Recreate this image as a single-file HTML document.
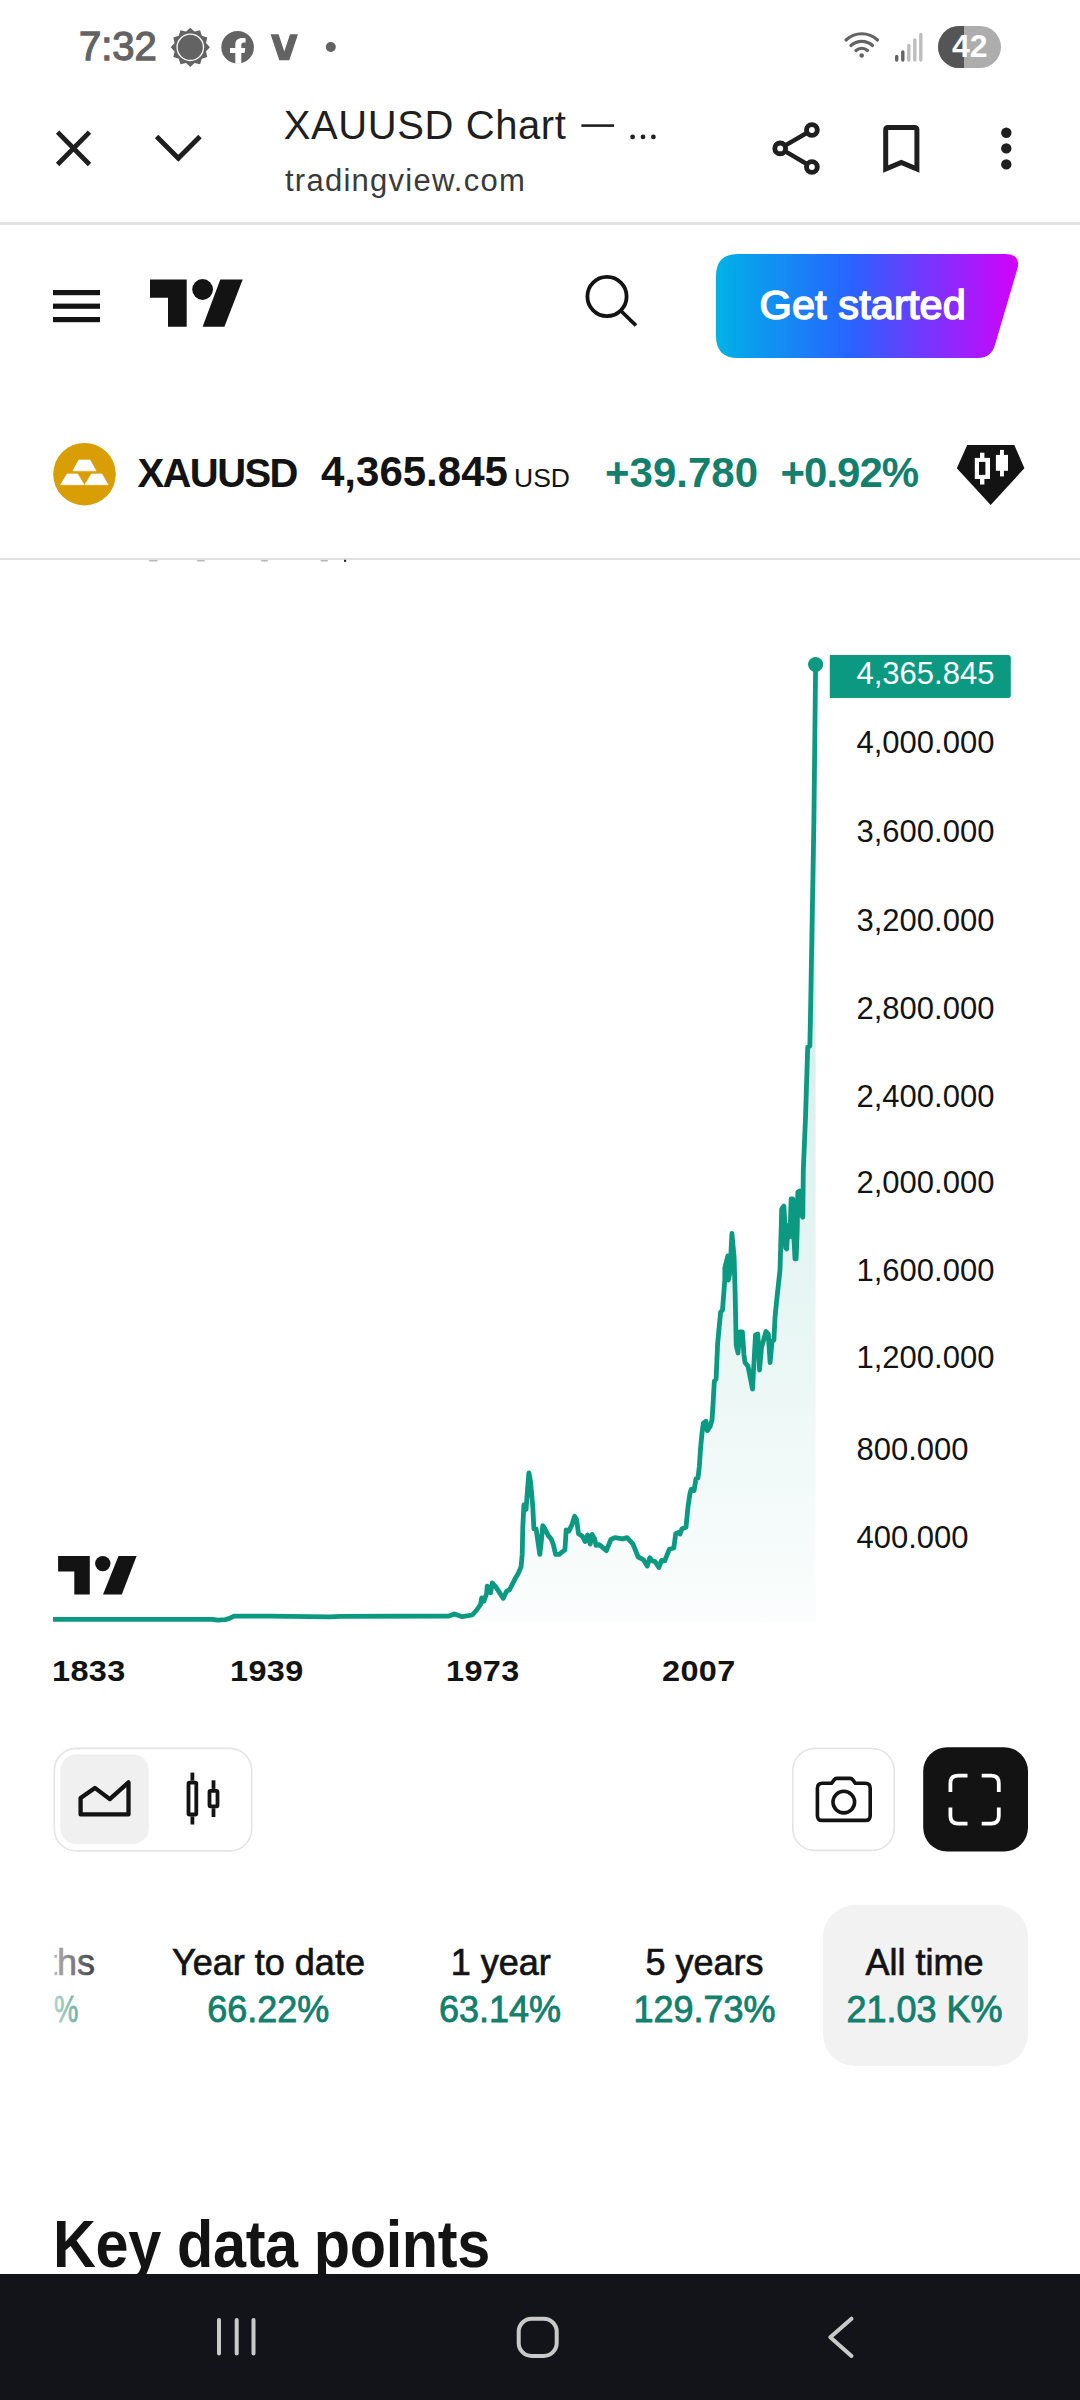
<!DOCTYPE html>
<html><head><meta charset="utf-8">
<style>
*{margin:0;padding:0;box-sizing:border-box}
html,body{width:1080px;height:2400px;overflow:hidden;background:#fff}
body{position:relative;font-family:"Liberation Sans",sans-serif;color:#131313}
.a{position:absolute;white-space:nowrap;line-height:1}
svg{position:absolute;overflow:visible}
.t1{font-size:36px;color:#131313;-webkit-text-stroke:0.7px #131313}
.t2{font-size:36px;color:#13806d;letter-spacing:0px;-webkit-text-stroke:0.85px #13806d}
</style></head><body>

<!-- STATUS BAR -->
<div class="a" style="left:79px;top:26px;font-size:40px;color:#636363;-webkit-text-stroke:1.3px #636363;letter-spacing:0px">7:32</div>
<svg style="left:0;top:0" width="1080" height="95" viewBox="0 0 1080 95">
  <!-- sun/gear -->
  <g fill="#636363">
    <polygon points="190.30,27.70 194.52,31.56 200.10,30.33 201.83,35.77 207.27,37.50 206.04,43.08 209.90,47.30 206.04,51.52 207.27,57.10 201.83,58.83 200.10,64.27 194.52,63.04 190.30,66.90 186.08,63.04 180.50,64.27 178.77,58.83 173.33,57.10 174.56,51.52 170.70,47.30 174.56,43.08 173.33,37.50 178.77,35.77 180.50,30.33 186.08,31.56"/>
    <circle cx="190.3" cy="47.3" r="13.2" fill="#636363" stroke="#fff" stroke-width="1.3"/>
  </g>
  <!-- facebook -->
  <circle cx="237.6" cy="47.3" r="16.3" fill="#636363"/>
  <path d="M241.3,63.8 V53 H244.6 L245.3,48 H241.3 V45 C241.3,43.5 242,42.5 243.8,42.5 H245.6 V38.3 C244.8,38.2 243.5,38 242.2,38 C238.2,38 235.3,40.3 235.3,44.5 V48 H230 V53 H235.3 V63.8 Z" fill="#fff"/>
  <!-- V -->
  <path d="M270.6,34.3 H278.6 L284.3,51.5 L290,34.3 H298 L289.3,60.2 H279.3 Z" fill="#636363"/>
  <circle cx="330.8" cy="47" r="5" fill="#636363"/>
  <!-- wifi -->
  <g fill="none" stroke="#636363" stroke-width="3.2" stroke-linecap="round">
    <path d="M846,40 A23,23 0 0 1 877.5,40"/>
    <path d="M851,45.5 A16,16 0 0 1 872.5,45.5"/>
    <path d="M856,50.5 A8.5,8.5 0 0 1 867.5,50.5"/>
  </g>
  <circle cx="861.7" cy="55.5" r="2.3" fill="#636363"/>
  <!-- signal -->
  <g stroke-linecap="round" stroke-width="3.4">
    <line x1="896.7" y1="56.5" x2="896.7" y2="60" stroke="#636363"/>
    <line x1="902.8" y1="52" x2="902.8" y2="60" stroke="#636363"/>
    <line x1="908.8" y1="45.5" x2="908.8" y2="60" stroke="#bdbdbd"/>
    <line x1="914.8" y1="40" x2="914.8" y2="60" stroke="#bdbdbd"/>
    <line x1="920.8" y1="34.5" x2="920.8" y2="60" stroke="#bdbdbd"/>
  </g>
  <!-- battery -->
  <defs><clipPath id="pill"><rect x="938" y="26" width="63" height="42" rx="21"/></clipPath></defs>
  <g clip-path="url(#pill)">
    <rect x="938" y="26" width="63" height="42" fill="#adadad"/>
    <rect x="938" y="26" width="26" height="42" fill="#555"/>
  </g>
</svg>
<div class="a" style="left:952px;top:30px;font-size:32px;font-weight:700;color:#fff">42</div>

<!-- BROWSER TOOLBAR -->
<svg style="left:0;top:0" width="1080" height="230" viewBox="0 0 1080 230">
  <g stroke="#1f1f1f" stroke-width="4.6" fill="none">
    <path d="M57.6,132.1 L89.5,164.5 M89.5,132.1 L57.6,164.5" stroke-width="4.8"/>
    <path d="M156.6,136.6 L178.3,158.3 L200,136.6" stroke-width="4.9"/>
  </g>
  <!-- share -->
  <g stroke="#1f1f1f" stroke-width="4.4" fill="none">
    <line x1="780.2" y1="148.4" x2="811.9" y2="130"/>
    <line x1="780.2" y1="148.4" x2="811.9" y2="167"/>
    <circle cx="811.9" cy="130" r="5.4" fill="#fff" stroke-width="4.9"/>
    <circle cx="780.2" cy="148.4" r="5.4" fill="#fff" stroke-width="4.9"/>
    <circle cx="811.9" cy="167" r="5.4" fill="#fff" stroke-width="4.9"/>
  </g>
  <!-- bookmark -->
  <path d="M885.7,169 V130 Q885.7,127.5 888.2,127.5 H914.4 Q916.9,127.5 916.9,130 V169 L901.3,162.5 Z" stroke="#1f1f1f" stroke-width="5" fill="none" stroke-linejoin="miter"/>
  <!-- dots -->
  <g fill="#1f1f1f">
    <circle cx="1006.3" cy="132.8" r="5.2"/>
    <circle cx="1006.3" cy="148.4" r="5.2"/>
    <circle cx="1006.3" cy="164.4" r="5.2"/>
  </g>
  <rect x="0" y="222" width="1080" height="3" fill="#e3e3e3"/>
</svg>
<div class="a" style="left:283.8px;top:104.8px;font-size:40px;color:#1f1f1f;letter-spacing:0.58px">XAUUSD Chart</div>
<svg style="left:0;top:0" width="700" height="160" viewBox="0 0 700 160"><g fill="#1f1f1f"><rect x="581.4" y="124.3" width="32.6" height="2.6"/><circle cx="632.6" cy="136.9" r="2.35"/><circle cx="643" cy="136.9" r="2.35"/><circle cx="653.4" cy="136.9" r="2.35"/></g></svg>
<div class="a" style="left:285px;top:164.8px;font-size:31px;letter-spacing:1.25px;color:#3a3a3a">tradingview.com</div>

<!-- TV HEADER -->
<svg style="left:0;top:0" width="1080" height="560" viewBox="0 0 1080 560">
  <g fill="#131313">
    <rect x="53" y="290" width="47" height="5.2"/>
    <rect x="53" y="303.6" width="47" height="5.2"/>
    <rect x="53" y="317" width="47" height="5.2"/>
    <!-- logo -->
    <path d="M150,279.4 H186.7 V326.8 H168 V297.7 H150 Z"/>
    <circle cx="202.6" cy="289.5" r="10.4"/>
    <path d="M220.3,279.4 H242.7 L224.4,326.8 H202.6 Z"/>
  </g>
  <!-- search -->
  <circle cx="607" cy="296.5" r="19.6" fill="none" stroke="#131313" stroke-width="3.8"/>
  <line x1="620.5" y1="310.5" x2="636" y2="325.5" stroke="#131313" stroke-width="3.8"/>
  <!-- button -->
  <defs>
    <linearGradient id="gs" x1="716" y1="0" x2="1020" y2="0" gradientUnits="userSpaceOnUse">
      <stop offset="0" stop-color="#00b2e7"/>
      <stop offset="0.45" stop-color="#2962ff"/>
      <stop offset="1" stop-color="#d500f9"/>
    </linearGradient>
  </defs>
  <path d="M738,254 H1005 Q1022,254 1017,270 L995,345 Q991,358 978,358 H738 Q716,358 716,336 V276 Q716,254 738,254 Z" fill="url(#gs)"/>
  <!-- symbol icon -->
  <circle cx="84.5" cy="474.2" r="31.3" fill="#d99d05"/>
  <g fill="#fff" stroke="#fff" stroke-width="0.8" stroke-linejoin="round">
    <path d="M78.8,460.1 H89.9 L96,470.8 H73 Z"/>
    <path d="M67.2,474 H77.5 L84,484.7 H60.7 Z"/>
    <path d="M91.5,474 H101.8 L108,484.7 H85 Z"/>
  </g>
  <!-- diamond -->
  <path d="M967.2,444.9 H1014.3 L1024.4,468.2 L990.7,504.9 L956.8,468.2 Z" fill="#131313"/>
  <g fill="#fff">
    <rect x="980" y="452.7" width="4.4" height="31.8"/>
    <rect x="974.8" y="457.9" width="15.2" height="21.1"/>
    <rect x="1000" y="449.9" width="3.9" height="26.5"/>
    <rect x="995.9" y="454.9" width="12.1" height="15.9"/>
  </g>
  <rect x="979" y="461.9" width="6.4" height="13" fill="#131313"/>
  <rect x="0" y="558" width="1080" height="2" fill="#e0e0e0"/>
  <g fill="#b8b8b8">
    <rect x="149" y="560" width="8.7" height="1.6" rx="0.8"/>
    <rect x="197" y="560" width="8" height="1.6" rx="0.8"/>
    <rect x="261" y="560" width="7" height="1.6" rx="0.8"/>
    <rect x="320.4" y="560" width="7.6" height="1.6" rx="0.8"/>
  </g>
  <rect x="344" y="559.8" width="2.2" height="2" fill="#222"/>
</svg>
<div class="a" style="left:759.5px;top:284px;font-size:41.5px;color:#fff;-webkit-text-stroke:1.5px #fff;letter-spacing:0.1px">Get started</div>

<div class="a" style="left:137.5px;top:453px;font-size:40px;font-weight:700;letter-spacing:-1.6px">XAUUSD</div>
<div class="a" style="left:321px;top:451px;font-size:42px;font-weight:700">4,365.845</div>
<div class="a" style="left:514px;top:465px;font-size:26.5px;color:#131313">USD</div>
<div class="a" style="left:605px;top:451.5px;font-size:42px;font-weight:700;color:#13806d">+39.780</div>
<div class="a" style="left:780.5px;top:451.5px;font-size:42px;font-weight:700;color:#13806d;letter-spacing:-1px">+0.92%</div>

<!-- CHART -->
<svg style="left:0;top:0" width="1080" height="1720" viewBox="0 0 1080 1720">
  <defs>
    <linearGradient id="ag" x1="0" y1="664" x2="0" y2="1622" gradientUnits="userSpaceOnUse">
      <stop offset="0" stop-color="#22ab94" stop-opacity="0.28"/>
      <stop offset="1" stop-color="#22ab94" stop-opacity="0.02"/>
    </linearGradient>
  </defs>
  <path d="M53,1619.4 L212,1619.4 L218,1620.2 L225,1619.6 L229,1618.6 L234,1616.1 L270,1616.2 L330,1616.8 L340,1616.3 L448.9,1616 L454.4,1613.9 L462.2,1616.7 L472.2,1615 L476.7,1610 L480.6,1604.4 L481.7,1597.8 L483.9,1601.1 L486.7,1593.3 L487.2,1586.1 L488.9,1587.8 L490.6,1592.8 L492.2,1582.8 L495.6,1586.7 L503.3,1598.3 L506.7,1591.1 L509.4,1590 L515.6,1577.8 L517.8,1574.4 L521.1,1566.7 L522.2,1554.4 L522.8,1526.7 L523.9,1505 L526.1,1509.4 L527.2,1493.3 L528.9,1472.8 L530.6,1482.2 L532.8,1506.7 L533.9,1528.9 L536.1,1528.9 L539.8,1554.4 L541.1,1543.3 L542.8,1525.6 L544.4,1527.8 L548.3,1535.6 L551.1,1538.9 L553.3,1544.4 L555.6,1554.4 L559.1,1554.4 L564.9,1549.9 L566.2,1529.8 L568.8,1531.1 L572,1524.6 L574.6,1516.2 L576.6,1519.4 L578.5,1533.7 L582.4,1536.3 L585,1541.5 L587.6,1535 L590.2,1544.1 L592.1,1534.4 L594.7,1538.9 L596,1545.4 L599.3,1544.7 L606.4,1550.6 L609,1544.1 L610.9,1539.5 L614.8,1537.6 L622.6,1538.9 L627.1,1537.6 L633,1544.1 L638.2,1557 L643.3,1559.6 L647.2,1566.1 L649.8,1557.7 L652.4,1560.9 L655,1561.6 L658.9,1567.4 L661.5,1560.3 L664.7,1560.9 L669.3,1549.3 L673.8,1548 L675.7,1533.7 L678.3,1532.4 L680,1534 L682,1528.7 L686,1527.3 L688,1506.7 L690,1493.3 L691.3,1489.3 L694,1490.7 L696,1478.7 L698,1478 L699.3,1466.7 L700.7,1446.7 L702,1433.3 L703.3,1423.3 L706,1421.3 L707.3,1430.7 L710,1426.7 L712,1420 L713.3,1400 L714.3,1381.3 L716.1,1379 L717.6,1343.8 L720.6,1312.3 L722.5,1310 L724.8,1280 L724.8,1268 L727.8,1256 L728.3,1280 L730,1272 L731.9,1233.5 L734.1,1257 L735.2,1295 L736.2,1345 L738,1353 L739.8,1332 L742.4,1332 L744,1355 L745,1362.5 L748,1366.3 L752.5,1389 L755.5,1335 L757.8,1334 L759.3,1362.5 L759.5,1370 L761.5,1347.5 L766,1331.5 L768.3,1334 L770.1,1362.5 L772,1341.5 L773.9,1340 L775,1317.5 L776.7,1300 L780,1270 L780.8,1242.2 L781.7,1208.9 L783.9,1206.1 L785,1225.6 L785.6,1247.8 L786.7,1248.9 L787.8,1225.6 L790,1236.7 L791.1,1198.9 L792.8,1198.9 L793.9,1236.7 L795,1258.9 L796.1,1258.9 L797.2,1231.1 L797.8,1192.2 L799.4,1191.1 L801.1,1214.4 L802.8,1217.2 L803.3,1170 L805.5,1117.5 L807.7,1047.1 L809.8,1046 L810.4,1020 L813.9,821 L815.6,667 L815.6,1622 L53,1622 Z" fill="url(#ag)"/>
  <path d="M53,1619.4 L212,1619.4 L218,1620.2 L225,1619.6 L229,1618.6 L234,1616.1 L270,1616.2 L330,1616.8 L340,1616.3 L448.9,1616 L454.4,1613.9 L462.2,1616.7 L472.2,1615 L476.7,1610 L480.6,1604.4 L481.7,1597.8 L483.9,1601.1 L486.7,1593.3 L487.2,1586.1 L488.9,1587.8 L490.6,1592.8 L492.2,1582.8 L495.6,1586.7 L503.3,1598.3 L506.7,1591.1 L509.4,1590 L515.6,1577.8 L517.8,1574.4 L521.1,1566.7 L522.2,1554.4 L522.8,1526.7 L523.9,1505 L526.1,1509.4 L527.2,1493.3 L528.9,1472.8 L530.6,1482.2 L532.8,1506.7 L533.9,1528.9 L536.1,1528.9 L539.8,1554.4 L541.1,1543.3 L542.8,1525.6 L544.4,1527.8 L548.3,1535.6 L551.1,1538.9 L553.3,1544.4 L555.6,1554.4 L559.1,1554.4 L564.9,1549.9 L566.2,1529.8 L568.8,1531.1 L572,1524.6 L574.6,1516.2 L576.6,1519.4 L578.5,1533.7 L582.4,1536.3 L585,1541.5 L587.6,1535 L590.2,1544.1 L592.1,1534.4 L594.7,1538.9 L596,1545.4 L599.3,1544.7 L606.4,1550.6 L609,1544.1 L610.9,1539.5 L614.8,1537.6 L622.6,1538.9 L627.1,1537.6 L633,1544.1 L638.2,1557 L643.3,1559.6 L647.2,1566.1 L649.8,1557.7 L652.4,1560.9 L655,1561.6 L658.9,1567.4 L661.5,1560.3 L664.7,1560.9 L669.3,1549.3 L673.8,1548 L675.7,1533.7 L678.3,1532.4 L680,1534 L682,1528.7 L686,1527.3 L688,1506.7 L690,1493.3 L691.3,1489.3 L694,1490.7 L696,1478.7 L698,1478 L699.3,1466.7 L700.7,1446.7 L702,1433.3 L703.3,1423.3 L706,1421.3 L707.3,1430.7 L710,1426.7 L712,1420 L713.3,1400 L714.3,1381.3 L716.1,1379 L717.6,1343.8 L720.6,1312.3 L722.5,1310 L724.8,1280 L724.8,1268 L727.8,1256 L728.3,1280 L730,1272 L731.9,1233.5 L734.1,1257 L735.2,1295 L736.2,1345 L738,1353 L739.8,1332 L742.4,1332 L744,1355 L745,1362.5 L748,1366.3 L752.5,1389 L755.5,1335 L757.8,1334 L759.3,1362.5 L759.5,1370 L761.5,1347.5 L766,1331.5 L768.3,1334 L770.1,1362.5 L772,1341.5 L773.9,1340 L775,1317.5 L776.7,1300 L780,1270 L780.8,1242.2 L781.7,1208.9 L783.9,1206.1 L785,1225.6 L785.6,1247.8 L786.7,1248.9 L787.8,1225.6 L790,1236.7 L791.1,1198.9 L792.8,1198.9 L793.9,1236.7 L795,1258.9 L796.1,1258.9 L797.2,1231.1 L797.8,1192.2 L799.4,1191.1 L801.1,1214.4 L802.8,1217.2 L803.3,1170 L805.5,1117.5 L807.7,1047.1 L809.8,1046 L810.4,1020 L813.9,821 L815.6,667" fill="none" stroke="#0b9982" stroke-width="4.8" stroke-linejoin="round" stroke-linecap="butt"/>
  <circle cx="815.6" cy="664.5" r="7.6" fill="#0b9982"/>
  <path d="M829.8,655 H1008 Q1010.8,655 1010.8,658 V695 Q1010.8,698 1008,698 H829.8 Z" fill="#0b9982"/>
  <!-- chart logo -->
  <g fill="#131313">
    <path d="M58.1,1555.9 H89.8 V1594.5 H74.3 V1571.4 H58.1 Z"/>
    <circle cx="102.8" cy="1563.6" r="7.7"/>
    <path d="M118.5,1555.9 H136.6 L121.8,1594.5 H103 Z"/>
  </g>
</svg>
<div class="a" style="left:856.5px;top:658.2px;font-size:31px;letter-spacing:0px;color:#fff">4,365.845</div>
<div class="a" style="left:856.5px;top:727.2px;font-size:31px;letter-spacing:0px">4,000.000</div>
<div class="a" style="left:856.5px;top:816.2px;font-size:31px;letter-spacing:0px">3,600.000</div>
<div class="a" style="left:856.5px;top:904.5px;font-size:31px;letter-spacing:0px">3,200.000</div>
<div class="a" style="left:856.5px;top:992.9px;font-size:31px;letter-spacing:0px">2,800.000</div>
<div class="a" style="left:856.5px;top:1081.2px;font-size:31px;letter-spacing:0px">2,400.000</div>
<div class="a" style="left:856.5px;top:1167.2px;font-size:31px;letter-spacing:0px">2,000.000</div>
<div class="a" style="left:856.5px;top:1254.7px;font-size:31px;letter-spacing:0px">1,600.000</div>
<div class="a" style="left:856.5px;top:1342.2px;font-size:31px;letter-spacing:0px">1,200.000</div>
<div class="a" style="left:856.5px;top:1434.2px;font-size:31px;letter-spacing:0px">800.000</div>
<div class="a" style="left:856.5px;top:1522.2px;font-size:31px;letter-spacing:0px">400.000</div>

<div class="a" style="left:52.3px;top:1655.5px;font-size:29.5px;font-weight:700;letter-spacing:0.3px;transform:scaleX(1.1);transform-origin:0 0">1833</div>
<div class="a" style="left:230.4px;top:1655.5px;font-size:29.5px;font-weight:700;letter-spacing:0.3px;transform:scaleX(1.1);transform-origin:0 0">1939</div>
<div class="a" style="left:446px;top:1655.5px;font-size:29.5px;font-weight:700;letter-spacing:0.3px;transform:scaleX(1.1);transform-origin:0 0">1973</div>
<div class="a" style="left:661.5px;top:1655.5px;font-size:29.5px;font-weight:700;letter-spacing:0.3px;transform:scaleX(1.1);transform-origin:0 0">2007</div>

<!-- CHART CONTROLS -->
<svg style="left:0;top:1700" width="1080" height="200" viewBox="0 1700 1080 200">
  <rect x="54.3" y="1748.4" width="197.4" height="102.5" rx="22" fill="#fff" stroke="#e4e4e4" stroke-width="1.6"/>
  <rect x="60.3" y="1754.3" width="88.6" height="89.6" rx="16" fill="#f0f0f0"/>
  <path d="M80.6,1814.4 V1798 L94.9,1787.9 L109.8,1799.1 L128.5,1782.4 V1814.4 Z" fill="none" stroke="#131313" stroke-width="4.3" stroke-linejoin="round"/>
  <g stroke="#131313" stroke-width="3.8" fill="none">
    <line x1="192.4" y1="1772.6" x2="192.4" y2="1780.7"/>
    <line x1="192.4" y1="1816.4" x2="192.4" y2="1824.5"/>
    <rect x="188.5" y="1782.6" width="7.8" height="31.9" rx="1"/>
    <line x1="213.5" y1="1780.3" x2="213.5" y2="1788.9"/>
    <line x1="213.5" y1="1808.2" x2="213.5" y2="1817"/>
    <rect x="209.5" y="1790.8" width="8" height="15.5" rx="1"/>
  </g>
  <rect x="792.8" y="1748.5" width="101.4" height="101.9" rx="22" fill="#fff" stroke="#e4e4e4" stroke-width="1.6"/>
  <g stroke="#131313" stroke-width="3.6" fill="none" stroke-linejoin="round">
    <path d="M822.4,1783.3 H831.5 L834.3,1779.6 Q835.2,1778.4 836.7,1778.4 H850.2 Q851.7,1778.4 852.6,1779.6 L855.4,1783.3 H865.2 Q870.2,1783.3 870.2,1788.3 V1815.4 Q870.2,1820.4 865.2,1820.4 H822.4 Q817.4,1820.4 817.4,1815.4 V1788.3 Q817.4,1783.3 822.4,1783.3 Z"/>
    <circle cx="843.8" cy="1802.1" r="10.8"/>
  </g>
  <rect x="923.2" y="1747.2" width="104.8" height="104.3" rx="24" fill="#131313"/>
  <g stroke="#fff" stroke-width="3.8" fill="none" stroke-linecap="butt">
    <path d="M967.5,1775.6 H958 Q950.4,1775.6 950.4,1783.2 V1792"/>
    <path d="M981.7,1775.6 H991.2 Q998.8,1775.6 998.8,1783.2 V1792"/>
    <path d="M967.5,1823.6 H958 Q950.4,1823.6 950.4,1816 V1807.5"/>
    <path d="M981.7,1823.6 H991.2 Q998.8,1823.6 998.8,1816 V1807.5"/>
  </g>
</svg>

<!-- PERFORMANCE TABS -->
<div class="a" style="left:822.5px;top:1905px;width:205px;height:161px;border-radius:32px;background:#f2f2f2"></div>
<div style="position:absolute;left:53px;top:1930px;width:80px;height:50px;overflow:hidden">
  <div class="a t1" style="left:-6px;top:15px;clip-path:inset(0 0 0 7.6px)">ths</div>
</div>
<div style="position:absolute;left:53px;top:1980px;width:80px;height:60px;overflow:hidden">
  <div class="a t2" style="left:0.6px;top:12px;transform:scaleX(0.76);transform-origin:0 0">%</div>
</div>
<div style="position:absolute;left:53px;top:1930px;width:60px;height:110px;background:linear-gradient(90deg,rgba(255,255,255,0.68) 0%,rgba(255,255,255,0) 100%)"></div>
<div class="a t1" style="left:168.5px;top:1945px;width:200px;text-align:center">Year to date</div>
<div class="a t2" style="left:168.3px;top:1992px;width:200px;text-align:center">66.22%</div>
<div class="a t1" style="left:400.8px;top:1945px;width:200px;text-align:center">1 year</div>
<div class="a t2" style="left:400px;top:1992px;width:200px;text-align:center">63.14%</div>
<div class="a t1" style="left:604.5px;top:1945px;width:200px;text-align:center">5 years</div>
<div class="a t2" style="left:604.5px;top:1992px;width:200px;text-align:center">129.73%</div>
<div class="a t1" style="left:824.5px;top:1945px;width:200px;text-align:center">All time</div>
<div class="a t2" style="left:824.5px;top:1992px;width:200px;text-align:center">21.03 K%</div>

<div class="a" style="left:53px;top:2211px;font-size:66px;font-weight:700;letter-spacing:-0.4px;color:#131313;transform:scaleX(0.9);transform-origin:0 0">Key data points</div>

<!-- NAV BAR -->
<div style="position:absolute;left:0;top:2274px;width:1080px;height:126px;background:#131419"></div>
<svg style="left:0;top:2274px" width="1080" height="126" viewBox="0 2274 1080 126">
  <g stroke="#c9c9c9" stroke-width="4" fill="none" stroke-linecap="round">
    <line x1="219" y1="2320" x2="219" y2="2353.5"/>
    <line x1="236.7" y1="2320" x2="236.7" y2="2353.5"/>
    <line x1="253.5" y1="2320" x2="253.5" y2="2353.5"/>
    <rect x="518.7" y="2318.7" width="38" height="37.3" rx="13"/>
    <path d="M851.5,2318.7 L830.3,2337.3 L851.5,2356" stroke-linejoin="round"/>
  </g>
</svg>
</body></html>
